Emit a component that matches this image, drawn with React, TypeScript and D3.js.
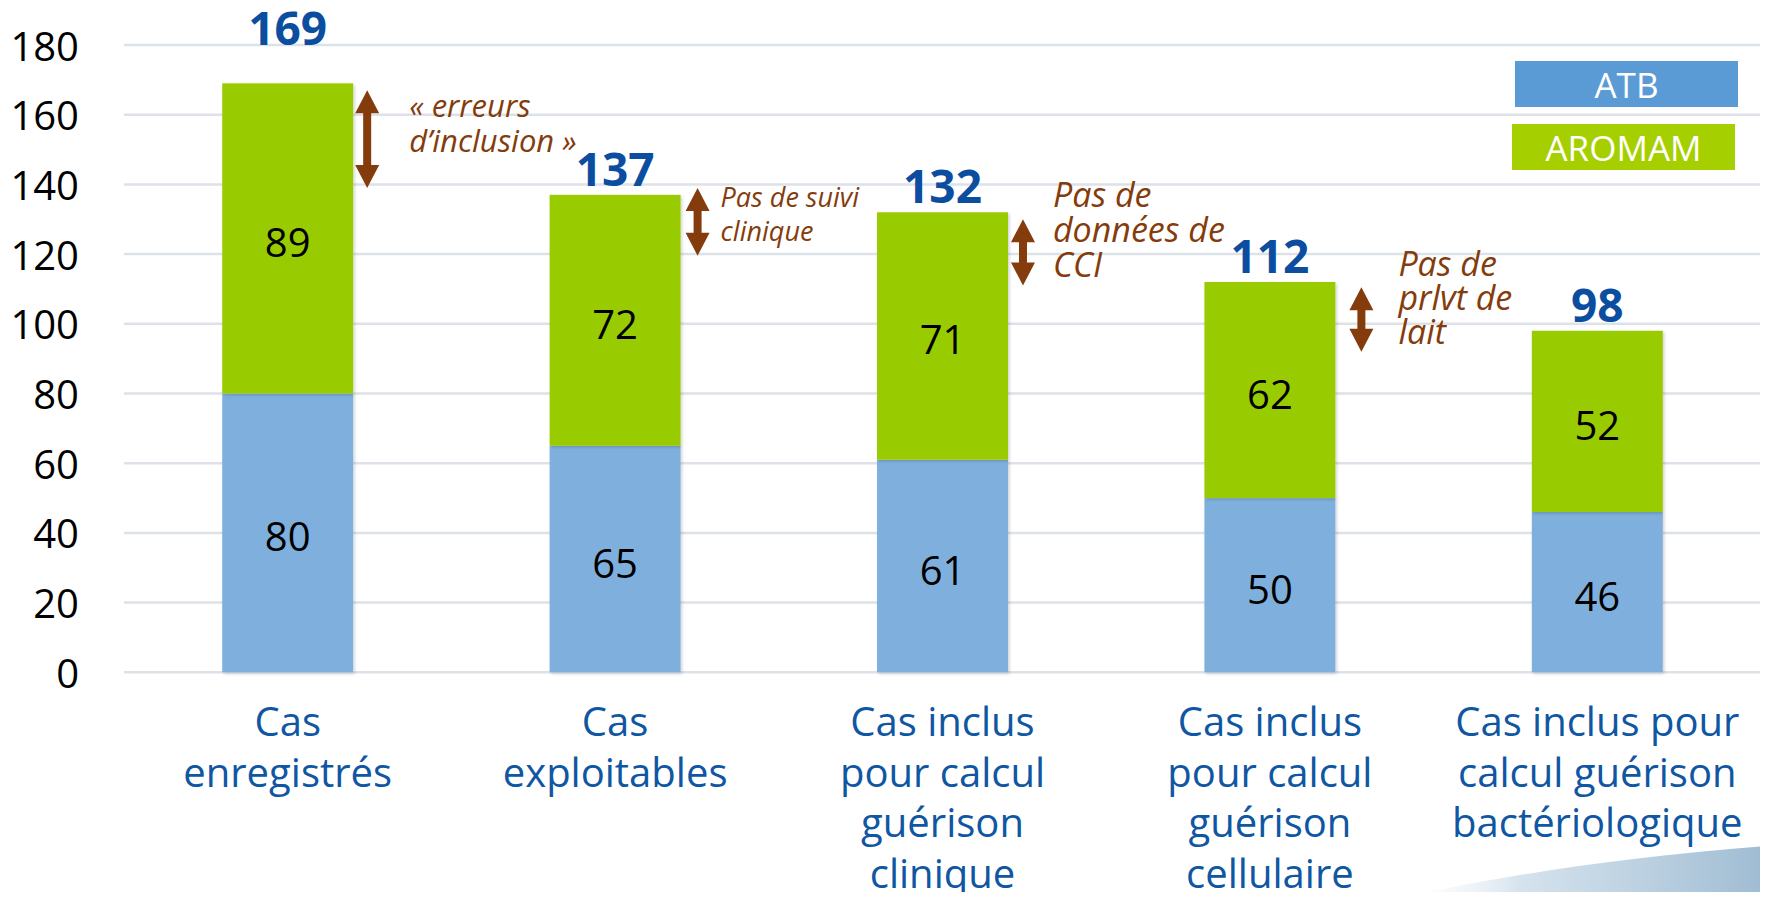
import React from "react";
import * as d3 from "d3";

const categories: string[][] = [
  ["Cas", "enregistrés"],
  ["Cas", "exploitables"],
  ["Cas inclus", "pour calcul", "guérison", "clinique"],
  ["Cas inclus", "pour calcul", "guérison", "cellulaire"],
  ["Cas inclus pour", "calcul guérison", "bactériologique"],
];
const atb = [80, 65, 61, 50, 46];
const aromam = [89, 72, 71, 62, 52];
const totals = [169, 137, 132, 112, 98];
const yTicks = [0, 20, 40, 60, 80, 100, 120, 140, 160, 180];
const seriesNames = ["ATB", "AROMAM"];

const annotTexts: string[][] = [
  ["« erreurs", "d’inclusion »"],
  ["Pas de suivi", "clinique"],
  ["Pas de", "données de", "CCI"],
  ["Pas de", "prlvt de", "lait"],
];
const annotFrom = [167, 139, 130, 110.5];
const annotTo = [139, 119.5, 111, 92];

// layout for annotations (offsets from bar right edge, font sizes, text baseline value)
const annotLayout = [
  { arrowDx: 14, textDx: 56, textValue: 159.3, size: 31, lh: 35 },
  { arrowDx: 17, textDx: 40, textValue: 133.6, size: 27, lh: 34 },
  { arrowDx: 15, textDx: 45, textValue: 133.6, size: 34, lh: 35 },
  { arrowDx: 26, textDx: 63, textValue: 113.7, size: 34, lh: 34 },
];

const W = 1768;
const H = 900;
const FONT = "'Segoe UI', 'Open Sans', 'Noto Sans', sans-serif";
const BLUE = "#7FB0DD";
const GREEN = "#99CC00";
const BROWN = "#843C0C";
const DARKBLUE = "#0B4EA0";
const CATBLUE = "#0F56A3";

function Arrow({ x, y1, y2 }: { x: number; y1: number; y2: number }) {
  const hw = 12;
  const hh = 23;
  const sw = 4;
  const d = [
    `M${x},${y1}`,
    `L${x + hw},${y1 + hh}`,
    `L${x + sw},${y1 + hh}`,
    `L${x + sw},${y2 - hh}`,
    `L${x + hw},${y2 - hh}`,
    `L${x},${y2}`,
    `L${x - hw},${y2 - hh}`,
    `L${x - sw},${y2 - hh}`,
    `L${x - sw},${y1 + hh}`,
    `L${x - hw},${y1 + hh}`,
    "Z",
  ].join(" ");
  return <path d={d} fill={BROWN} />;
}

export default function App() {
  const left = 124;
  const right = 1761;
  const y = d3.scaleLinear().domain([0, 180]).range([672.3, 45]);
  const x = d3
    .scaleBand<number>()
    .domain(d3.range(categories.length))
    .range([left, right])
    .paddingInner(0.6)
    .paddingOuter(0.3);
  const bw = x.bandwidth();

  const stackData = atb.map((a, i) => ({ ATB: a, AROMAM: aromam[i], i }));
  const stack = d3.stack<any>().keys(seriesNames)(stackData);
  const colors: Record<string, string> = { ATB: BLUE, AROMAM: GREEN };

  return (
    <div style={{ margin: -8 }}>
      <svg width={W} height={H} style={{ display: "block", background: "#fff" }}>
        <defs>
          <linearGradient id="sw" x1="0" y1="0" x2="1" y2="0">
            <stop offset="0" stopColor="#ffffff" stopOpacity="0" />
            <stop offset="0.35" stopColor="#c9dbe8" stopOpacity="0.8" />
            <stop offset="1" stopColor="#9ebbd2" />
          </linearGradient>
          <filter id="shadow" x="-10%" y="-10%" width="130%" height="130%">
            <feDropShadow dx="1.5" dy="1.5" stdDeviation="1.5" floodColor="#000" floodOpacity="0.18" />
          </filter>
        </defs>
        {/* background swoosh */}
        <path d="M1390,900 Q1560,862 1768,846 L1768,900 Z" fill="url(#sw)" />

        {/* grid */}
        {yTicks.map((t) => (
          <line key={t} x1={left} x2={right} y1={y(t)} y2={y(t)} stroke="#DDE2E9" strokeWidth={2.5} />
        ))}
        {/* y labels */}
        {yTicks.map((t) => (
          <text
            key={"l" + t}
            x={79}
            y={y(t)}
            textAnchor="end"
            dominantBaseline="central"
            fontFamily={FONT}
            fontSize={40}
            fill="#000"
          >
            {t}
          </text>
        ))}

        {/* bars */}
        {stack.map((s) => (
          <g key={s.key} fill={colors[s.key]}>
            {s.map((d, i) => (
              <rect
                key={i}
                x={x(i)!}
                y={y(d[1])}
                width={bw}
                height={y(d[0]) - y(d[1])}
                filter="url(#shadow)"
              />
            ))}
          </g>
        ))}
        {/* segment labels */}
        {stack.map((s) =>
          s.map((d, i) => (
            <text
              key={s.key + "t" + i}
              x={x(i)! + bw / 2}
              y={y((d[0] + d[1]) / 2) + 3}
              textAnchor="middle"
              dominantBaseline="central"
              fontFamily={FONT}
              fontSize={40}
              fill="#000"
            >
              {d[1] - d[0]}
            </text>
          ))
        )}
        {/* totals */}
        {totals.map((t, i) => (
          <text
            key={"tot" + i}
            x={x(i)! + bw / 2}
            y={i === 0 ? y(180) : y(t) - 9}
            textAnchor="middle"
            fontFamily={FONT}
            fontWeight="bold"
            fontSize={46}
            fill={DARKBLUE}
          >
            {t}
          </text>
        ))}

        {/* annotations */}
        {annotTexts.map((lines, i) => {
          const L = annotLayout[i];
          const bx = x(i)! + bw;
          return (
            <g key={"an" + i}>
              <Arrow x={bx + L.arrowDx} y1={y(annotFrom[i])} y2={y(annotTo[i])} />
              <text
                x={bx + L.textDx}
                y={y(L.textValue)}
                fontFamily={FONT}
                fontStyle="italic"
                fontSize={L.size}
                fill={BROWN}
              >
                {lines.map((ln, k) => (
                  <tspan key={k} x={bx + L.textDx} dy={k === 0 ? 0 : L.lh}>
                    {ln}
                  </tspan>
                ))}
              </text>
            </g>
          );
        })}

        {/* category labels */}
        {categories.map((lines, i) => (
          <text
            key={"c" + i}
            x={x(i)! + bw / 2}
            y={736}
            textAnchor="middle"
            fontFamily={FONT}
            fontSize={40}
            fill={CATBLUE}
          >
            {lines.map((ln, k) => (
              <tspan key={k} x={x(i)! + bw / 2} dy={k === 0 ? 0 : 50.5}>
                {ln}
              </tspan>
            ))}
          </text>
        ))}

        {/* legend */}
        <g>
          <rect x={1515} y={61} width={223} height={46} fill="#5B9BD5" />
          <text x={1626.5} y={84} textAnchor="middle" dominantBaseline="central" fontFamily={FONT} fontSize={35} fill="#fff">
            {seriesNames[0]}
          </text>
          <rect x={1512} y={124} width={223} height={46} fill="#A6CF00" />
          <text x={1623.5} y={147} textAnchor="middle" dominantBaseline="central" fontFamily={FONT} fontSize={35} fill="#fff">
            {seriesNames[1]}
          </text>
        </g>
      </svg>
    </div>
  );
}
